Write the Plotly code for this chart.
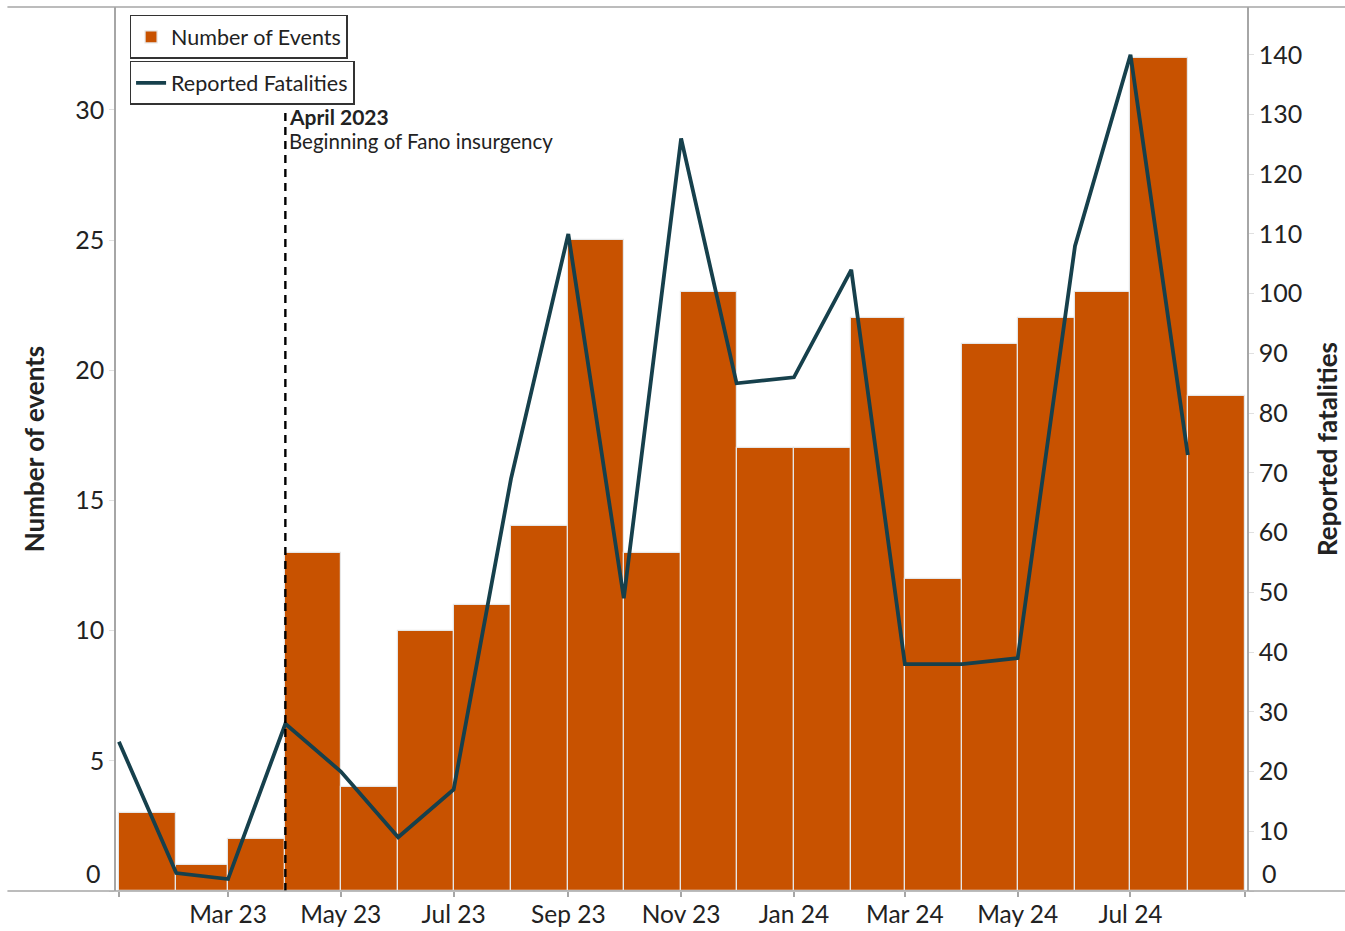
import pandas as pd
import plotly.graph_objects as go

months = pd.date_range("2023-01-01", "2024-08-01", freq="MS")
events = [3, 1, 2, 13, 4, 10, 11, 14, 25, 13, 23, 17, 17, 22, 12, 21, 22, 23, 32, 19]
fatalities = [25, 3, 2, 28, 20, 9, 17, 69, 110, 49, 126, 85, 86, 104, 38, 38, 39, 108, 140, 73]

tick_dates = pd.date_range("2023-01-01", "2024-09-01", freq="2MS")
tick_labels = ["", "Mar 23", "May 23", "Jul 23", "Sep 23", "Nov 23", "Jan 24",
               "Mar 24", "May 24", "Jul 24", ""]
left_ticks = [0, 5, 10, 15, 20, 25, 30]
right_ticks = list(range(0, 150, 10))

event_date = pd.Timestamp("2023-04-01")
event_title = "April 2023"
event_text = "Beginning of Fano insurgency"

BAR = "#C85200"
LINE = "#16404C"
AX = "#A6A6A6"
TXT = "#222222"
FONT = "Lato"
TICK_SIZE = 25

next_months = months + pd.offsets.MonthBegin(1)
widths = [(b - a).total_seconds() * 1000 for a, b in zip(months, next_months)]

fig = go.Figure()
fig.add_trace(go.Bar(
    x=months, y=events, width=widths, offset=0,
    marker=dict(color=BAR, line=dict(color="#E6E6E6", width=1.2)),
    name="Number of Events", legend="legend", yaxis="y", showlegend=True,
))
fig.add_trace(go.Scatter(
    x=months, y=fatalities, mode="lines",
    line=dict(color=LINE, width=3.8),
    name="Reported Fatalities", legend="legend2", yaxis="y2", showlegend=True,
))

# event marker
fig.add_shape(type="line", xref="x", yref="y", x0=event_date, x1=event_date,
              y0=0, y1=30.1, line=dict(color="black", width=2.4, dash="8px,6px"))
fig.add_annotation(x=event_date, y=30.3, xref="x", yref="y", xanchor="left", yanchor="top",
                   xshift=2, text="<b>" + event_title + "</b>", showarrow=False,
                   font=dict(family=FONT, size=21, color=TXT))
fig.add_annotation(x=event_date, y=30.3, xref="x", yref="y", xanchor="left", yanchor="top",
                   xshift=2, yshift=-25, text=event_text, showarrow=False,
                   font=dict(family=FONT, size=20.5, color=TXT))

# frame lines extending into margins
fig.add_shape(type="line", xref="paper", yref="paper", x0=-0.096, x1=1.087, y0=1, y1=1,
              line=dict(color=AX, width=1.5))
fig.add_shape(type="line", xref="paper", yref="paper", x0=-0.096, x1=1.087, y0=0, y1=0,
              line=dict(color=AX, width=1.5))

# zero labels sit slightly above the baseline
fig.add_annotation(xref="paper", yref="paper", x=-0.0115, y=0.02, xanchor="right", yanchor="middle",
                   text="0", showarrow=False, font=dict(family=FONT, size=TICK_SIZE, color=TXT))
fig.add_annotation(xref="paper", yref="paper", x=1.0115, y=0.02, xanchor="left", yanchor="middle",
                   text="0", showarrow=False, font=dict(family=FONT, size=TICK_SIZE, color=TXT))

fig.update_layout(
    width=1345, height=931,
    margin=dict(l=116, r=98, t=7, b=40, autoexpand=False),
    plot_bgcolor="white", paper_bgcolor="white",
    font=dict(family=FONT, color=TXT),
    bargap=0,
    showlegend=True,
    xaxis=dict(
        type="date", range=["2022-12-30 10:00", "2024-09-02"],
        tickvals=tick_dates, ticktext=tick_labels, automargin=False,
        showgrid=False, zeroline=False, showline=False,
        ticks="outside", ticklen=5, tickcolor=AX, tickwidth=1.5,
        ticklabelstandoff=-3,
        tickfont=dict(family=FONT, size=24.5, color=TXT),
    ),
    yaxis=dict(
        range=[0, 33.95], tickvals=left_ticks, automargin=False,
        ticktext=["" if v == 0 else str(v) for v in left_ticks],
        showgrid=False, zeroline=False, showline=True, linecolor=AX, linewidth=1.5,
        ticks="outside", ticklen=5, tickcolor="#E0E0E0",
        tickfont=dict(family=FONT, size=TICK_SIZE, color=TXT),
        title=dict(text="<b>Number of events</b>", font=dict(family=FONT, size=26, color=TXT), standoff=23),
    ),
    yaxis2=dict(
        range=[0, 148], overlaying="y", side="right", tickvals=right_ticks, automargin=False,
        ticktext=["" if v == 0 else str(v) for v in right_ticks],
        showgrid=False, zeroline=False, showline=True, linecolor=AX, linewidth=1.5,
        ticks="outside", ticklen=5, tickcolor="#E0E0E0",
        tickfont=dict(family=FONT, size=TICK_SIZE, color=TXT),
        title=dict(text="<b>Reported fatalities</b>", font=dict(family=FONT, size=26, color=TXT), standoff=18),
    ),
    legend=dict(x=0.012, y=0.991, xanchor="left", yanchor="top",
                bordercolor="#333333", borderwidth=1.5, bgcolor="white",
                font=dict(family=FONT, size=21.5, color=TXT), itemwidth=30,
                tracegroupgap=0),
    legend2=dict(x=0.012, y=0.939, xanchor="left", yanchor="top",
                 bordercolor="#333333", borderwidth=1.5, bgcolor="white",
                 font=dict(family=FONT, size=21.5, color=TXT), itemwidth=30,
                 tracegroupgap=0),
)

fig.write_html("out.html", config={"displayModeBar": False},
               post_script="document.body.style.margin='0';")
